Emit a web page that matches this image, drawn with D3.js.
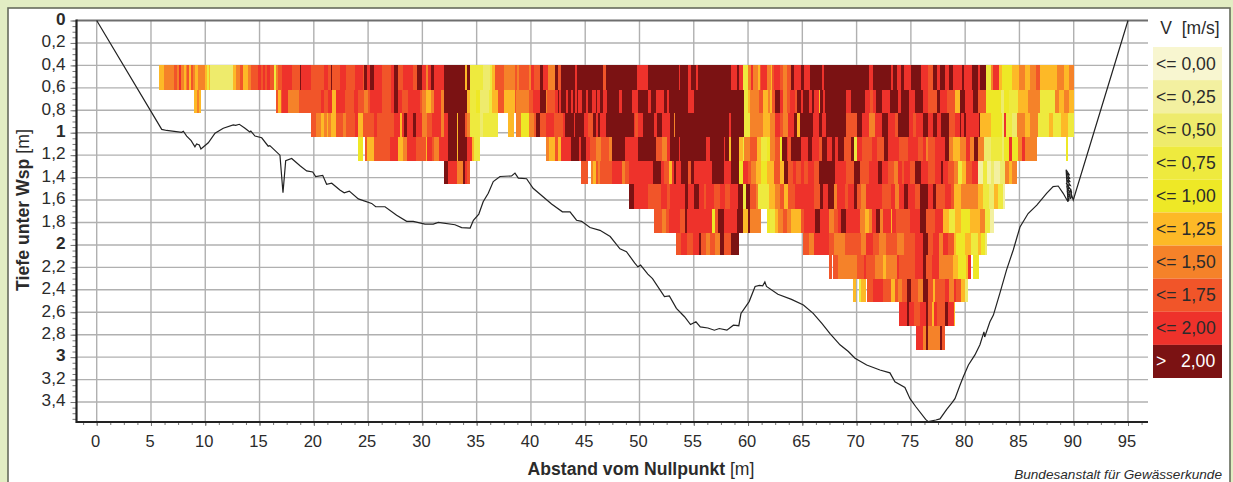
<!DOCTYPE html>
<html>
<head>
<meta charset="utf-8">
<script src="https://cdn.jsdelivr.net/npm/d3@7"></script>
<style>
  html, body { margin: 0; padding: 0; background: #e2edc3; overflow: hidden; }
  text { font-family: "Liberation Sans", Arial, sans-serif; fill: #2b2b2b; }
</style>
</head>
<body>
<svg id="chart" width="1233" height="482"></svg>
<script>
var xTicks = [0, 5, 10, 15, 20, 25, 30, 35, 40, 45, 50, 55, 60, 65, 70, 75, 80, 85, 90, 95];
var yTicks = [0, 0.2, 0.4, 0.6, 0.8, 1, 1.2, 1.4, 1.6, 1.8, 2, 2.2, 2.4, 2.6, 2.8, 3, 3.2, 3.4];

var legendLabels = ["<= 0,00", "<= 0,25", "<= 0,50", "<= 0,75", "<= 1,00", "<= 1,25", "<= 1,50", "<= 1,75", "<= 2,00", ">   2,00"];
var legendColors = ["#f8f6d0", "#f3f0a0", "#eeeb6c", "#eeea3e", "#eee826", "#fdb927", "#f58229", "#f15529", "#ee322b", "#7b1213"];

// depth of the measuring cells, m
var depthEdges = [0.4, 0.62, 0.82, 1.04, 1.25, 1.46, 1.68, 1.89, 2.09, 2.3, 2.51, 2.72, 2.94];

// each row: [start of run in m, velocity class], null = no measurement, last entry closes the row
var row0 = [[5.7,5],[6.2,6],[7.1,7],[7.4,6],[7.6,8],[7.8,6],[8,5],[8.2,6],[8.3,7],[8.5,5],[8.7,7],[8.9,6],[9.1,5],[9.3,6],[10,5],[10.15,3],[10.3,5],[10.45,2],[12.6,5],[12.8,6],[13.2,7],[13.5,5],[13.9,6],[14.2,7],[14.9,8],[15.1,7],[15.3,8],[15.5,7],[15.7,8],[16,7],[16.35,3],[16.55,6],[16.7,7],[17.1,8],[18,7],[18.7,9],[18.85,8],[19.7,7],[20.9,8],[21.3,7],[21.6,9],[21.7,7],[22.4,8],[23,7],[23.8,8],[24.55,7],[24.65,9],[24.9,8],[25.2,9],[25.5,8],[26.3,7],[27.1,8],[27.4,9],[27.8,7],[28.25,8],[29.1,7],[29.5,9],[30,8],[30.3,6],[30.5,8],[30.8,9],[31.1,8],[32,9],[33.95,5],[34.1,9],[34.4,3],[35.6,2],[36.2,3],[36.45,5],[36.7,7],[37.55,6],[38.5,7],[38.7,6],[38.9,7],[39.85,6],[40.05,8],[40.3,7],[40.8,9],[41.1,8],[41.6,6],[42.25,9],[42.5,7],[42.8,9],[44.1,8],[44.2,9],[46.6,7],[46.95,9],[49.8,8],[50.8,9],[53.6,8],[53.7,9],[54.5,8],[54.7,9],[55.2,8],[55.4,9],[58.4,8],[59,9],[59.2,8],[59.5,3],[59.95,6],[60.3,8],[60.5,6],[60.9,5],[61.1,7],[61.2,8],[61.7,6],[62.1,5],[62.2,7],[62.4,8],[62.9,7],[63.2,6],[63.6,7],[64,9],[64.2,8],[64.9,9],[65.2,8],[65.7,9],[66.85,8],[67,9],[71.1,8],[71.5,9],[73.2,8],[73.35,9],[73.7,8],[74.05,9],[74.4,8],[75,9],[75.9,8],[76.6,7],[77,9],[77.4,8],[77.7,9],[78.1,8],[78.55,9],[78.9,8],[79.7,9],[79.85,8],[80.6,9],[81.2,8],[81.4,9],[81.9,3],[82.4,6],[82.6,8],[83.1,5],[83.35,4],[84.3,5],[85,6],[85.5,5],[86,6],[86.5,7],[86.85,5],[88.5,6],[89.15,5],[89.6,6],[90,null]];
var row1 = [[9,5],[9.2,6],[9.4,5],[9.6,null],[16.5,7],[16.7,5],[17,7],[17.1,8],[17.6,6],[18.6,7],[20.7,8],[20.9,7],[21.3,8],[21.7,5],[22,8],[22.9,7],[23.7,8],[24.1,7],[24.6,6],[25,7],[25.2,8],[26.3,7],[27.1,8],[27.4,9],[27.8,8],[28.15,7],[28.7,8],[29.8,7],[30,6],[30.3,5],[30.75,6],[31.1,8],[31.75,6],[32,9],[34.15,5],[34.4,3],[34.9,4],[35.35,2],[36.15,3],[36.45,5],[37,7],[37.55,5],[38.5,7],[38.65,6],[39.85,7],[40.2,8],[40.8,6],[40.85,9],[41.35,6],[41.5,7],[42.25,8],[42.45,9],[42.6,8],[42.8,9],[43.25,8],[43.45,9],[43.7,8],[43.9,9],[44.1,8],[44.2,9],[44.35,8],[44.75,9],[45.1,8],[45.3,9],[45.65,8],[45.95,9],[46.1,8],[46.4,9],[46.65,8],[47.05,9],[48.15,8],[48.35,9],[49.35,8],[49.9,9],[50.8,8],[51.1,9],[51.55,8],[52.3,9],[52.5,8],[52.75,9],[53.15,8],[53.2,9],[54.5,8],[55,9],[59.6,null],[59.65,3],[59.95,5],[60.15,6],[61.05,7],[61.4,5],[61.8,6],[62,5],[62.25,7],[62.45,9],[62.9,8],[63.25,6],[63.6,7],[63.9,8],[64.3,7],[64.55,9],[64.85,8],[65.1,9],[65.65,8],[65.85,9],[66.1,8],[66.5,5],[66.6,9],[66.95,8],[67.05,9],[69.05,8],[69.45,9],[70.8,8],[71.2,7],[71.5,8],[71.75,9],[72.3,8],[73.1,9],[73.8,8],[74.05,9],[74.8,8],[75.35,9],[76.1,8],[76.6,7],[77.4,9],[77.7,8],[78.3,7],[79.1,5],[79.5,9],[79.95,8],[80.7,9],[81.2,7],[81.9,4],[83.3,2],[83.6,4],[84,3],[84.85,5],[85.8,6],[86.85,3],[88.3,6],[88.6,5],[89.15,6],[89.6,5],[90,null]];
var row2 = [[19.7,7],[20.2,6],[20.7,5],[20.9,6],[21.2,5],[21.35,6],[21.6,5],[22,7],[22.7,6],[23,7],[23.8,8],[24.1,5],[24.5,7],[25.5,8],[25.8,7],[27.4,8],[27.9,5],[28.15,8],[28.35,9],[28.6,8],[29.1,9],[29.45,8],[30,6],[30.45,7],[30.9,8],[31.75,6],[32,8],[32.4,9],[33.2,5],[33.3,9],[33.95,7],[34.15,6],[34.4,3],[35.35,2],[35.6,3],[37,null],[37.9,5],[38.45,null],[38.65,6],[39.1,4],[39.85,6],[40.3,7],[40.5,9],[40.8,7],[41.35,8],[42.15,7],[43,8],[43.15,9],[44,8],[44.1,9],[44.85,8],[45.3,7],[45.75,9],[46,8],[46.2,9],[46.4,8],[46.95,9],[49.45,8],[49.55,7],[49.9,8],[50.3,9],[51.3,8],[51.65,9],[52.1,8],[52.85,9],[53.2,6],[53.3,9],[58.2,8],[58.4,9],[59.6,null],[59.65,3],[60.2,6],[61.4,5],[62.05,6],[62.45,8],[62.9,7],[63.25,6],[63.7,8],[64.2,9],[64.55,5],[64.75,9],[65.95,8],[66.5,9],[66.85,8],[67.2,9],[69.05,7],[70,9],[70.5,8],[71.1,6],[71.65,8],[72.3,9],[72.85,8],[73.5,7],[73.85,9],[74.8,8],[75.15,7],[75.5,8],[76.1,9],[76.6,8],[77,9],[77.4,8],[77.75,9],[78.55,7],[79.1,8],[79.5,9],[79.65,8],[79.85,9],[80.1,8],[81.25,9],[81.4,5],[82.35,4],[83.35,2],[83.55,8],[83.8,3],[84.35,2],[84.75,6],[85.5,5],[86,6],[86.75,3],[87.7,5],[88.05,3],[88.8,5],[89.45,3],[90,null]];
var row3 = [[24.1,4],[24.5,null],[24.7,7],[24.9,5],[25.5,7],[27,8],[27.8,5],[28.25,6],[28.6,8],[29.45,7],[30.3,5],[30.45,8],[30.9,7],[31.1,6],[31.55,8],[32.4,9],[33.2,5],[33.3,9],[34.15,8],[34.6,5],[34.8,3],[35.35,null],[41.4,6],[41.7,5],[42.25,7],[42.5,5],[42.8,8],[43.7,9],[44.45,8],[44.65,9],[45.1,8],[45.4,7],[46,6],[46.5,7],[47.15,6],[47.5,9],[48.7,8],[49.9,9],[51.55,7],[52.1,6],[52.5,8],[52.85,9],[53.6,8],[53.7,9],[56.15,8],[56.45,9],[57.75,8],[57.9,9],[58.2,5],[58.4,9],[59.2,5],[59.5,3],[59.65,6],[60.2,7],[60.85,5],[61.15,3],[61.7,4],[62,6],[62.45,7],[62.9,4],[63.15,9],[63.55,8],[63.7,7],[64,9],[64.85,8],[65.55,9],[65.85,8],[66.5,7],[66.85,9],[67.3,8],[67.7,9],[68.05,8],[68.25,9],[68.8,7],[69.45,9],[69.8,3],[70,8],[70.5,7],[71.4,8],[71.9,7],[72.5,9],[72.85,8],[73.95,7],[74.7,8],[75.7,7],[76.1,8],[76.35,6],[76.6,7],[77.25,8],[78.1,9],[78.55,6],[78.9,5],[79.5,6],[80.05,8],[80.4,6],[80.85,9],[81.15,6],[81.7,2],[82.35,3],[83.35,2],[83.55,4],[84,8],[84.3,4],[84.85,6],[85.2,8],[85.5,6],[86.6,null],[89.25,4],[89.45,null]];
var row4 = [[32,9],[32.4,8],[33.2,6],[33.7,9],[33.95,8],[34.15,7],[34.4,null],[44.65,7],[45.3,null],[45.55,6],[45.75,5],[45.95,7],[46.2,6],[46.4,7],[47.5,8],[48.35,6],[48.7,7],[49.05,8],[51.2,9],[51.95,8],[52.3,7],[52.75,5],[52.95,8],[53.2,9],[53.4,8],[53.8,9],[54.5,7],[54.7,9],[55.05,8],[56.7,9],[57.75,8],[58.4,9],[59.2,4],[59.5,8],[59.95,7],[60.3,6],[60.7,5],[61.15,4],[61.7,5],[62.35,7],[62.9,5],[63.35,9],[63.7,7],[64.1,8],[64.45,7],[64.9,8],[65.2,7],[65.55,8],[66.1,7],[66.5,9],[68.05,8],[69.05,7],[69.8,9],[70.3,7],[71.1,8],[72,9],[72.3,8],[72.85,7],[73.4,6],[73.8,8],[74.15,7],[74.4,8],[74.9,7],[75.35,9],[75.9,8],[76.6,7],[77.2,8],[77.75,9],[78,8],[78.4,7],[78.95,6],[79.3,3],[79.75,5],[80.05,7],[80.6,8],[81.15,1],[81.6,3],[82,1],[82.35,2],[82.7,1],[83.25,2],[83.65,6],[84,5],[84.35,6],[84.75,null]];
var row5 = [[49.05,9],[49.45,8],[50.75,7],[52,8],[52.5,7],[52.85,8],[54.15,9],[54.45,8],[55.05,9],[55.45,8],[55.9,7],[56.15,8],[56.9,7],[57.45,8],[57.9,7],[58.3,8],[59.1,9],[59.5,3],[59.85,9],[60.2,7],[60.75,6],[60.95,3],[61.9,5],[62.45,6],[62.9,7],[63.35,5],[63.7,7],[64.3,8],[66.1,7],[66.6,9],[66.95,8],[67.4,9],[67.95,6],[68.15,8],[68.9,7],[69.25,8],[69.8,9],[70,7],[70.45,6],[70.9,8],[72.3,7],[73.15,8],[73.5,6],[73.95,8],[74.4,9],[74.7,8],[75.35,7],[75.8,9],[76.55,8],[77,9],[77.35,7],[78.1,8],[78.65,7],[79,5],[79.6,6],[81.15,5],[81.6,3],[82.15,2],[82.7,5],[83.05,3],[83.45,1],[83.7,null]];
var row6 = [[51.3,7],[52.1,6],[52.4,7],[52.75,8],[53.7,7],[54.15,9],[54.35,8],[56.7,4],[57,7],[57.25,9],[57.75,8],[59,9],[59.5,5],[59.95,9],[60.2,6],[61.15,null],[61.7,4],[62,3],[62.5,5],[62.8,6],[63.25,7],[63.6,6],[64,5],[64.9,7],[65.2,8],[66.2,9],[66.6,8],[67.5,6],[67.95,7],[68.3,8],[68.6,9],[69.05,8],[70.35,6],[70.75,5],[71.1,6],[71.4,8],[71.75,9],[72.2,6],[72.4,8],[73.15,5],[73.3,8],[73.6,7],[74.9,8],[75.8,9],[76.35,7],[77.25,8],[78,5],[78.55,3],[79.1,5],[79.65,4],[80.4,5],[81.35,6],[81.8,3],[82.25,1],[82.7,null]];
var row7 = [[53.4,7],[53.85,8],[54.35,7],[54.9,8],[55.45,9],[55.7,7],[56.1,6],[56.45,7],[57,6],[57.45,9],[57.75,7],[58.4,9],[59.2,null],[65.1,7],[65.65,6],[66.1,8],[67.5,7],[67.95,6],[68.9,7],[70.45,6],[70.9,8],[71.55,7],[72.1,6],[72.75,7],[73.7,6],[74.4,7],[75.35,8],[76.1,9],[76.55,7],[77,8],[77.55,6],[78,8],[78.45,7],[78.95,5],[79.2,4],[79.95,5],[80.5,3],[81.15,5],[81.5,4],[81.8,2],[82.05,null]];
var row8 = [[67.5,7],[67.7,null],[67.85,7],[68.3,6],[70,7],[70.65,8],[70.9,7],[71.65,6],[72.4,5],[72.75,6],[73.7,8],[73.95,7],[75.35,8],[76.1,9],[76.35,7],[76.9,8],[77.55,6],[78.85,5],[79.3,4],[80.05,5],[80.3,8],[80.5,null],[80.7,4],[81.25,null]];
var row9 = [[69.7,5],[69.95,null],[70.2,3],[70.45,5],[70.85,null],[71,7],[71.55,8],[72.4,7],[73.15,5],[73.5,7],[73.8,6],[74.15,7],[74.6,9],[75,7],[75.7,6],[76.1,9],[76.6,7],[77,5],[77.2,7],[78.1,8],[78.55,6],[78.95,8],[79.2,7],[79.6,5],[79.95,2],[80.3,null]];
var row10 = [[73.95,8],[74.6,9],[74.8,8],[75.25,7],[75.8,8],[76.35,9],[76.55,7],[76.9,5],[77.1,8],[77.45,7],[78.1,9],[78.45,8],[78.95,5],[79.1,null]];
var row11 = [[75.5,8],[76.15,6],[76.35,9],[76.55,6],[77.65,9],[77.9,7],[78.1,null]];

// river bed: [distance, depth below water level]
var bed = [[0,0],[5.99,0.97],[6.45,0.98],[7.83,0.996],[7.98,0.987],[8.29,1.03],[8.7,1.07],[9.05,1.125],[9.2,1.1],[9.45,1.11],[9.6,1.145],[10.28,1.09],[10.9,1.005],[11.66,0.96],[12.58,0.93],[12.8,0.935],[13.14,0.925],[13.66,0.96],[14.1,0.994],[14.2,0.985],[14.58,1.03],[15.2,1.045],[15.8,1.12],[15.95,1.115],[16.88,1.2],[17.16,1.535],[17.41,1.25],[17.96,1.23],[18.73,1.295],[19.34,1.34],[19.9,1.35],[20.17,1.39],[20.82,1.38],[21.18,1.46],[21.65,1.45],[22.4,1.51],[22.8,1.535],[23.27,1.52],[24.1,1.59],[25.33,1.63],[25.7,1.66],[26.56,1.66],[27.63,1.735],[28.55,1.79],[29.16,1.79],[30.24,1.815],[31,1.815],[31.47,1.8],[33,1.82],[33.62,1.845],[34.4,1.85],[34.7,1.78],[35.2,1.725],[35.6,1.615],[36.07,1.54],[36.53,1.435],[37.15,1.39],[38.22,1.385],[38.53,1.36],[38.84,1.405],[39.6,1.41],[40.2,1.495],[41.9,1.635],[42.9,1.705],[43.6,1.705],[44.2,1.78],[44.67,1.79],[45.44,1.845],[46.36,1.87],[47.3,1.925],[48.2,2.035],[48.8,2.06],[49.55,2.16],[49.85,2.195],[50.1,2.18],[50.77,2.26],[51.2,2.3],[52.3,2.46],[52.75,2.455],[53.4,2.565],[54.15,2.64],[54.7,2.71],[55.2,2.685],[55.6,2.73],[56.3,2.74],[56.9,2.76],[57.35,2.745],[58.05,2.76],[58.65,2.715],[59.15,2.72],[59.35,2.61],[60.1,2.505],[60.65,2.37],[61.05,2.36],[61.35,2.365],[61.55,2.33],[61.7,2.37],[62.75,2.44],[64,2.485],[65.1,2.535],[66,2.61],[66.8,2.7],[67.55,2.79],[68.47,2.89],[69.24,2.95],[69.85,3.01],[70.93,3.07],[72.15,3.115],[73.07,3.14],[73.53,3.22],[74.45,3.27],[74.92,3.37],[75.44,3.44],[76.36,3.555],[76.6,3.575],[77.3,3.56],[77.68,3.55],[78.3,3.465],[78.76,3.41],[79.06,3.37],[79.52,3.25],[79.83,3.175],[80.3,3.07],[80.9,2.98],[81.36,2.89],[81.73,2.775],[81.8,2.82],[82.28,2.685],[82.6,2.625],[83.2,2.43],[83.82,2.22],[84.43,2.045],[85.05,1.84],[85.8,1.72],[86.6,1.645],[87.5,1.54],[88.1,1.48],[88.57,1.475],[89.03,1.54],[89.47,1.615],[89.3,1.33],[89.62,1.38],[89.32,1.36],[89.66,1.41],[89.34,1.39],[89.68,1.44],[89.36,1.42],[89.68,1.47],[89.38,1.46],[89.66,1.5],[89.4,1.49],[89.64,1.53],[89.42,1.53],[89.6,1.56],[89.44,1.57],[89.52,1.61],[89.72,1.5],[89.8,1.53],[89.7,1.59],[89.82,1.56],[89.96,1.6],[95,0]];

var rows = [row0, row1, row2, row3, row4, row5, row6, row7, row8, row9, row10, row11];

var svg = d3.select("#chart");

var x = d3.scaleLinear().domain([0, 95]).range([96.7, 1128]);
var y = d3.scaleLinear().domain([0, 3.578]).range([20.5, 422]);
var color = d3.scaleOrdinal().domain(d3.range(10)).range(legendColors);

var xLeft = 76.5,
    xRight = 1148,
    yBottom = 422;

svg.append("rect")
    .attr("x", 8).attr("y", 8)
    .attr("width", 1222).attr("height", 490)
    .attr("fill", "#fff")
    .attr("stroke", "#666b5c")
    .attr("stroke-width", 1.6);

// grid
var grid = svg.append("g").attr("stroke", "#b0b0b0").attr("stroke-width", 1.4);

grid.selectAll(".gx").data(xTicks).enter().append("line")
    .attr("x1", d => x(d)).attr("x2", d => x(d))
    .attr("y1", y(0)).attr("y2", yBottom);

grid.selectAll(".gy").data(yTicks.slice(1)).enter().append("line")
    .attr("x1", xLeft).attr("x2", xRight)
    .attr("y1", d => y(d)).attr("y2", d => y(d));

svg.append("line")
    .attr("x1", xLeft).attr("x2", xRight)
    .attr("y1", y(0)).attr("y2", y(0))
    .attr("stroke", "#6e6e6e").attr("stroke-width", 1.8);

// velocity cells
rows.forEach((row, i) => {
  svg.append("g")
      .attr("shape-rendering", "crispEdges")
    .selectAll("rect").data(row.slice(0, -1)).enter()
    .filter(d => d[1] !== null)
    .append("rect")
      .attr("x", d => x(d[0]))
      .attr("y", y(depthEdges[i]))
      .attr("width", d => x(row[row.indexOf(d) + 1][0]) - x(d[0]))
      .attr("height", y(depthEdges[i + 1]) - y(depthEdges[i]))
      .attr("fill", d => color(d[1]));
});

// bed line
var line = d3.line()
    .x(d => x(d[0]))
    .y(d => y(d[1]));

svg.append("path")
    .attr("d", line(bed))
    .attr("fill", "none")
    .attr("stroke", "#222")
    .attr("stroke-width", 1.2);

// axes
var yAxis = d3.axisLeft(y)
    .tickValues(yTicks)
    .tickSize(6)
    .tickPadding(5)
    .tickFormat(d => String(d).replace(".", ","));

var yAxisG = svg.append("g")
    .attr("transform", "translate(" + xLeft + ",0)")
    .call(yAxis);

yAxisG.select(".domain").remove();
yAxisG.selectAll("line").attr("stroke", "#777").attr("stroke-width", 1);
yAxisG.selectAll("text")
    .attr("dy", "0.22em")
    .style("font-size", "17.2px")
    .style("font-weight", d => d % 1 === 0 ? "bold" : "normal");

var yMinor = d3.axisLeft(y)
    .tickValues(d3.range(0, 3.56, 0.05))
    .tickSize(4)
    .tickFormat("");

var yMinorG = svg.append("g")
    .attr("transform", "translate(" + xLeft + ",0)")
    .call(yMinor);
yMinorG.select(".domain").remove();
yMinorG.selectAll("line").attr("stroke", "#777").attr("stroke-width", 1);

var xAxis = d3.axisBottom(x)
    .tickValues(xTicks)
    .tickSize(4)
    .tickPadding(9);

var xAxisG = svg.append("g")
    .attr("transform", "translate(0," + yBottom + ")")
    .call(xAxis);

xAxisG.select(".domain").remove();
xAxisG.selectAll("line").attr("stroke", "#777").attr("stroke-width", 1);
xAxisG.selectAll("text")
    .attr("dx", "-1.5")
    .style("font-size", "16.5px");

var xMinor = d3.axisBottom(x)
    .tickValues(d3.range(-1.25, 96.3, 1.25))
    .tickSize(3)
    .tickFormat("");

var xMinorG = svg.append("g")
    .attr("transform", "translate(0," + yBottom + ")")
    .call(xMinor);
xMinorG.select(".domain").remove();
xMinorG.selectAll("line").attr("stroke", "#777").attr("stroke-width", 1);

svg.append("line")
    .attr("x1", xLeft).attr("x2", xLeft)
    .attr("y1", y(0) - 1).attr("y2", yBottom + 1)
    .attr("stroke", "#222").attr("stroke-width", 2.2);

svg.append("line")
    .attr("x1", xLeft).attr("x2", xRight)
    .attr("y1", yBottom).attr("y2", yBottom)
    .attr("stroke", "#222").attr("stroke-width", 2.2);

// axis titles
var yTitle = svg.append("text")
    .attr("transform", "translate(29,210) rotate(-90)")
    .attr("text-anchor", "middle")
    .style("font-size", "17.7px");
yTitle.append("tspan").style("font-weight", "bold").text("Tiefe unter Wsp");
yTitle.append("tspan").text(" [m]");

var xTitle = svg.append("text")
    .attr("x", 641)
    .attr("y", 475)
    .attr("text-anchor", "middle")
    .style("font-size", "17.6px");
xTitle.append("tspan").style("font-weight", "bold").text("Abstand vom Nullpunkt");
xTitle.append("tspan").text(" [m]");

svg.append("text")
    .attr("x", 1222)
    .attr("y", 478.8)
    .attr("text-anchor", "end")
    .style("font-size", "13.6px")
    .style("font-style", "italic")
    .text("Bundesanstalt für Gewässerkunde");

// legend
var legendY = d3.scaleBand().domain(d3.range(10)).range([47, 378]);

svg.append("text")
    .attr("x", 1190)
    .attr("y", 34)
    .attr("text-anchor", "middle")
    .attr("xml:space", "preserve")
    .style("white-space", "pre")
    .style("font-size", "17.5px")
    .text("V  [m/s]");

var legend = svg.append("g");

legend.selectAll("rect").data(legendColors).enter().append("rect")
    .attr("x", 1153)
    .attr("y", (d, i) => legendY(i))
    .attr("width", 69)
    .attr("height", legendY.bandwidth())
    .attr("fill", d => d);

legend.selectAll("text").data(legendLabels).enter().append("text")
    .attr("x", 1156)
    .attr("y", (d, i) => legendY(i) + legendY.bandwidth() / 2 + 6)
    .attr("xml:space", "preserve")
    .style("white-space", "pre")
    .style("font-size", "17.6px")
    .style("fill", (d, i) => i === 9 ? "#fff" : "#2b2b2b")
    .text(d => d);
</script>
</body>
</html>
